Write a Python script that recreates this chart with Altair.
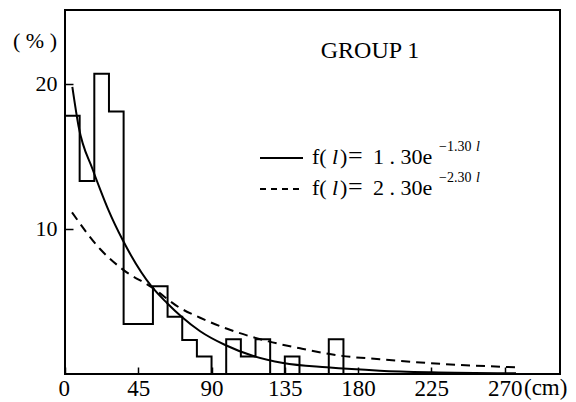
import altair as alt
import pandas as pd

# ---- data ----
bin_left = [0, 9, 18, 27, 36, 45, 54, 63, 72, 81, 90, 99, 108, 117, 126, 135, 144, 153, 162]
bin_width = 9
pct = [17.8, 13.3, 20.7, 18.1, 3.45, 3.45, 6.05, 3.95, 2.35, 1.2, 0.0, 2.4, 1.2, 2.4, 0.0, 1.2, 0.0, 0.0, 2.4]

solid_l = [4.5, 8.3, 17.0, 21.7, 26.7, 35.6, 53.4, 62.6, 71.6, 83.0, 98.4, 115.7, 134.0, 160.7, 193.4, 225.0, 277.0]
solid_p = [19.8, 17.1, 14.1, 12.7, 11.3, 9.2, 6.0, 4.9, 3.95, 2.95, 2.0, 1.24, 0.76, 0.46, 0.23, 0.12, 0.05]

dash_l = [4.3, 21.7, 35.6, 53.4, 70.7, 83.0, 100.0, 125.0, 144.4, 170.0, 193.4, 224.1, 277.3]
dash_p = [11.15, 8.6, 7.2, 5.97, 4.55, 3.88, 3.1, 2.25, 1.77, 1.25, 1.02, 0.75, 0.46]

x_ticks = [0, 45, 90, 135, 180, 225, 270]
y_ticks = [10, 20]

X_DOMAIN = [0, 304]
Y_DOMAIN = [0, 25.1]
W, H = 495, 364
SERIF = "Liberation Serif"

# step outline of the histogram
hx = [0]
hy = [0]
for l, p in zip(bin_left, pct):
    hx.append(l)
    hy.append(p)
hx.append(bin_left[-1] + bin_width)
hy.append(0)
hist_df = pd.DataFrame({"x": hx, "y": hy, "o": range(len(hx))})

solid_df = pd.DataFrame({"x": solid_l, "y": solid_p})
dash_df = pd.DataFrame({"x": dash_l, "y": dash_p})

xs = alt.Scale(domain=X_DOMAIN, nice=False, zero=False)
ys = alt.Scale(domain=Y_DOMAIN, nice=False, zero=False)

# axes moved inside the frame so that the ticks point inward
x_axis = alt.Axis(values=x_ticks, title=None, grid=False, domain=False, ticks=True,
                  tickSize=7, tickWidth=1.5, tickColor="black", offset=-7,
                  labelFont=SERIF, labelFontSize=23, labelColor="black", labelPadding=3,
                  labelOffset={"condition": {"test": "datum.value == 0", "value": -7}, "value": 0})
y_axis = alt.Axis(values=y_ticks, title=None, grid=False, domain=False, ticks=True,
                  tickSize=8, tickWidth=1.5, tickColor="black", offset=-8,
                  labelFont=SERIF, labelFontSize=22, labelColor="black", labelPadding=8)

hist = alt.Chart(hist_df).mark_line(interpolate="step-after", color="black", strokeWidth=2, clip=True).encode(
    x=alt.X("x:Q", scale=xs, axis=x_axis),
    y=alt.Y("y:Q", scale=ys, axis=y_axis),
    order="o:Q",
)

solid = alt.Chart(solid_df).mark_line(interpolate="monotone", color="black", strokeWidth=2, clip=True).encode(
    x=alt.X("x:Q", scale=xs), y=alt.Y("y:Q", scale=ys))

dashed = alt.Chart(dash_df).mark_line(interpolate="monotone", color="black", strokeWidth=2,
                                      strokeDash=[9, 6], clip=True).encode(
    x=alt.X("x:Q", scale=xs), y=alt.Y("y:Q", scale=ys))

one = pd.DataFrame({"a": [0]})


def txt(s, x, y, size=22, align="left", baseline="alphabetic", style="normal"):
    return alt.Chart(one).mark_text(text=s, font=SERIF, fontSize=size, align=align, baseline=baseline,
                                    fontStyle=style, color="black").encode(
        x=alt.value(x), y=alt.value(y))


OX, OY = 65, 10  # padding offsets: convert page coords to plot coords

texts = [
    txt("GROUP 1", 370 - OX, 58 - OY, size=24, align="center"),
    txt("( % )", 35 - OX, 41 - OY, size=22, align="center", baseline="middle"),
    txt("(cm)", 524 - OX, H + 14, size=23, align="left", baseline="middle"),
]
for row, (num, base) in enumerate([("1", 164), ("2", 195)]):
    b = base - OY
    texts += [
        txt("f(", 312 - OX, b),
        txt("l", 332 - OX, b, style="italic"),
        txt(")", 340 - OX, b),
        txt("=", 348 - OX, b, size=26),
        txt(num + " . 30e", 373 - OX, b),
        txt("−" + num + ".30", 439 - OX, b - 13, size=14),
        txt("l", 476 - OX, b - 13, size=14, style="italic"),
    ]

leg_solid = alt.Chart(one).mark_rule(color="black", strokeWidth=2).encode(
    x=alt.value(260 - OX), x2=alt.value(303 - OX), y=alt.value(158 - OY))
leg_dash = alt.Chart(one).mark_rule(color="black", strokeWidth=2, strokeDash=[6, 5]).encode(
    x=alt.value(260 - OX), x2=alt.value(303 - OX), y=alt.value(189 - OY))

chart = alt.layer(hist, solid, dashed, leg_solid, leg_dash, *texts).properties(
    width=W, height=H,
    autosize=alt.AutoSizeParams(type="none"),
    padding={"left": OX, "top": OY, "right": 576 - OX - W, "bottom": 402 - OY - H},
).configure(background="white").configure_view(stroke="black", strokeWidth=2)

chart.save("out.html", embed_options={"renderer": "svg", "actions": False})
